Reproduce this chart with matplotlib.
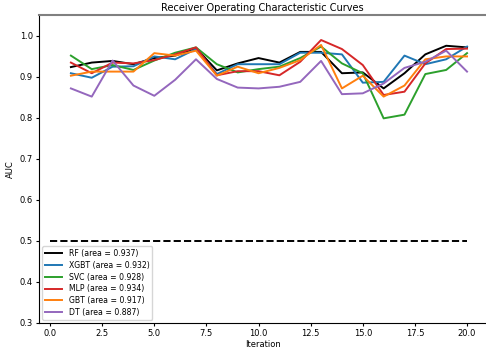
import matplotlib
matplotlib.use('Agg')
import matplotlib.pyplot as plt

iterations = list(range(1, 21))
rf = [0.924, 0.935, 0.939, 0.931, 0.946, 0.952, 0.970, 0.916, 0.933, 0.946,
      0.935, 0.961, 0.961, 0.909, 0.911, 0.872, 0.909, 0.955, 0.976, 0.972]
xgbt = [0.909, 0.898, 0.925, 0.926, 0.950, 0.943, 0.968, 0.907, 0.931, 0.931,
        0.931, 0.959, 0.959, 0.955, 0.886, 0.888, 0.952, 0.931, 0.943, 0.974]
svc = [0.952, 0.919, 0.929, 0.917, 0.940, 0.959, 0.972, 0.931, 0.911, 0.919,
       0.925, 0.946, 0.974, 0.933, 0.909, 0.799, 0.808, 0.907, 0.917, 0.958]
mlp = [0.935, 0.909, 0.935, 0.933, 0.941, 0.955, 0.972, 0.904, 0.914, 0.914,
       0.904, 0.937, 0.990, 0.968, 0.929, 0.856, 0.864, 0.933, 0.968, 0.969]
gbt = [0.903, 0.913, 0.913, 0.913, 0.958, 0.952, 0.964, 0.903, 0.925, 0.909,
       0.922, 0.941, 0.978, 0.872, 0.903, 0.852, 0.879, 0.943, 0.950, 0.950]
dt = [0.872, 0.852, 0.940, 0.879, 0.854, 0.893, 0.943, 0.895, 0.874, 0.872,
      0.876, 0.888, 0.939, 0.858, 0.860, 0.884, 0.922, 0.937, 0.964, 0.913]

names = ['RF', 'XGBT', 'SVC', 'MLP', 'GBT', 'DT']
areas = ['0.937', '0.932', '0.928', '0.934', '0.917', '0.887']
colors = ['black', '#1f77b4', '#2ca02c', '#d62728', '#ff7f0e', '#9467bd']
series = [rf, xgbt, svc, mlp, gbt, dt]

fig = plt.figure(figsize=(4.86, 3.53), dpi=100)
ax = fig.add_axes([39/486, 30/353, 447/486, 308/353])

for name, area, c, vals in zip(names, areas, colors, series):
    ax.plot(iterations, vals, color=c, lw=1.4, label=f'{name} (area = {area})')
ax.plot([0, 20], [0.5, 0.5], 'k--', lw=1.4)

ax.set_xlim(-0.53, 20.91)
ax.set_ylim(0.3, 1.051)
ax.set_xticks([0.0, 2.5, 5.0, 7.5, 10.0, 12.5, 15.0, 17.5, 20.0])
ax.set_yticks([0.3, 0.4, 0.5, 0.6, 0.7, 0.8, 0.9, 1.0])
ax.tick_params(labelsize=6, length=2.5, pad=2)
ax.spines['right'].set_visible(False)
ax.spines['top'].set_color('gray')
ax.spines['top'].set_linewidth(1.5)
ax.set_xlabel('Iteration', fontsize=6, labelpad=1)
ax.set_ylabel('AUC', fontsize=6, labelpad=3)
ax.set_title('Receiver Operating Characteristic Curves', fontsize=7, pad=3)
ax.legend(loc='lower left', fontsize=5.6, handlelength=2.2, labelspacing=0.35,
          borderaxespad=0.4)

fig.savefig('out.png', dpi=100)
